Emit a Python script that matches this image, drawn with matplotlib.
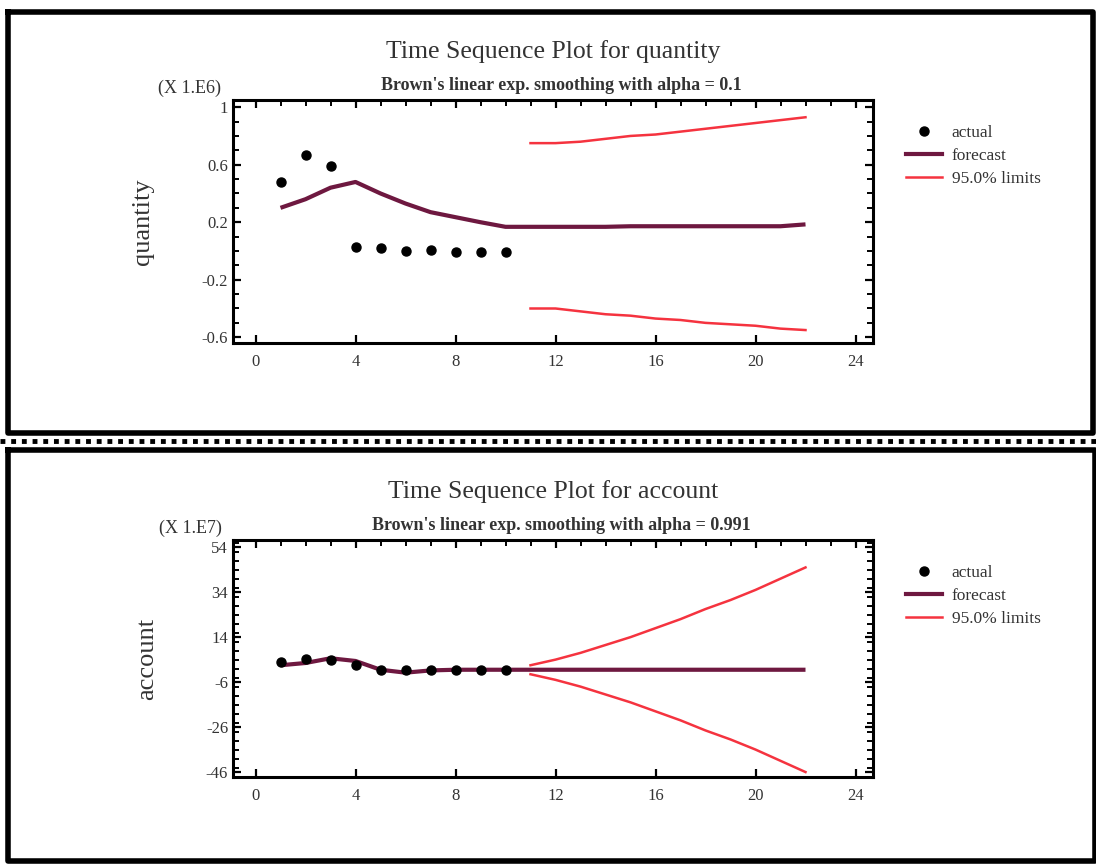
import matplotlib
matplotlib.use("Agg")
import matplotlib.pyplot as plt
from matplotlib.lines import Line2D
from matplotlib.ticker import MultipleLocator

plt.rcParams["font.family"] = ["Liberation Serif", "DejaVu Serif"]

# top panel: quantity (x 1.E6)
t_actual = [1, 2, 3, 4, 5, 6, 7, 8, 9, 10]
q_actual = [0.48, 0.67, 0.59, 0.03, 0.02, 0.0, 0.005, -0.007, -0.007, -0.007]
t_fc = [1, 2, 3, 4, 5, 6, 7, 8, 9, 10, 11, 12, 13, 14, 15, 16, 17, 18, 19, 20, 21, 22]
q_fc = [0.30, 0.36, 0.44, 0.48, 0.40, 0.33, 0.27, 0.235, 0.20, 0.168,
        0.168, 0.168, 0.168, 0.168, 0.172, 0.172, 0.172, 0.172, 0.172, 0.172, 0.172, 0.185]
t_lim = [11, 12, 13, 14, 15, 16, 17, 18, 19, 20, 21, 22]
q_upper = [0.75, 0.75, 0.76, 0.78, 0.80, 0.81, 0.83, 0.85, 0.87, 0.89, 0.91, 0.93]
q_lower = [-0.40, -0.40, -0.42, -0.44, -0.45, -0.47, -0.48, -0.50, -0.51, -0.52, -0.54, -0.55]

# bottom panel: account (x 1.E7)
a_actual = [2.9, 4.4, 3.9, 1.4, -0.8, -0.5, -0.5, -0.5, -0.5, -0.5]
a_fc = [1.5, 2.5, 4.6, 3.4, -0.5, -1.8, -0.8, -0.5, -0.5, -0.5,
        -0.5, -0.5, -0.5, -0.5, -0.5, -0.5, -0.5, -0.5, -0.5, -0.5, -0.5, -0.5]
a_upper = [1.5, 4.0, 7.0, 10.5, 14.0, 18.0, 22.0, 26.5, 30.5, 35.0, 40.0, 45.0]
a_lower = [-2.5, -5.0, -8.0, -11.5, -15.0, -19.0, -23.0, -27.5, -31.5, -36.0, -41.0, -46.0]

panels = [
    dict(name="quantity", alpha="0.1", scale="(X 1.E6)", actual=q_actual, fc=q_fc,
         upper=q_upper, lower=q_lower, ylim=(-0.64, 1.05), yticks=[-0.6, -0.2, 0.2, 0.6, 1],
         ylabels=["-0.6", "-0.2", "0.2", "0.6", "1"], minor=0.1, rect=[233, 100, 873, 343]),
    dict(name="account", alpha="0.991", scale="(X 1.E7)", actual=a_actual, fc=a_fc,
         upper=a_upper, lower=a_lower, ylim=(-48.2, 57.2), yticks=[-46, -26, -6, 14, 34, 54],
         ylabels=["-46", "-26", "-6", "14", "34", "54"], minor=4, rect=[233, 540, 873, 777]),
]

W, H = 1096, 864
FC_COLOR = "#6e1840"
LIM_COLOR = "#f5333f"

fig = plt.figure(figsize=(W / 100, H / 100), dpi=100)

for p in panels:
    x0, y0, x1, y1 = p["rect"]
    ax = fig.add_axes([x0 / W, 1 - y1 / H, (x1 - x0) / W, (y1 - y0) / H])
    ax.plot(t_fc, p["fc"], color=FC_COLOR, lw=3.0, solid_capstyle="butt", zorder=3)
    ax.plot(t_lim, p["upper"], color=LIM_COLOR, lw=1.8, zorder=2)
    ax.plot(t_lim, p["lower"], color=LIM_COLOR, lw=1.8, zorder=2)
    ax.plot(t_actual, p["actual"], "o", color="black", ms=6.5, zorder=4)

    ax.set_xlim(-0.9, 24.7)
    ax.set_ylim(*p["ylim"])
    ax.set_xticks([0, 4, 8, 12, 16, 20, 24])
    ax.set_yticks(p["yticks"])
    ax.set_yticklabels(p["ylabels"])
    ax.yaxis.set_minor_locator(MultipleLocator(p["minor"]))
    ax.xaxis.set_minor_locator(MultipleLocator(1))
    ax.tick_params(which="both", direction="in", colors="black", labelsize=12,
                   left=True, right=True, top=True, bottom=True, labelcolor="#333333")
    ax.tick_params(which="major", length=6, width=1.6)
    ax.tick_params(which="minor", length=4, width=1.4, bottom=False)
    ax.tick_params(axis="x", pad=8)
    for s in ax.spines.values():
        s.set_linewidth(2.2)
    ax.set_ylabel(p["name"], fontsize=19, color="#333333", labelpad=34)

    cx = (x0 + x1) / 2 / W
    fig.text(cx, 1 - (y0 - 48) / H, "Time Sequence Plot for " + p["name"],
             ha="center", va="center", fontsize=18.5, color="#333333")
    fig.text(cx + 8 / W, 1 - (y0 - 14) / H,
             "Brown's linear exp. smoothing with alpha = " + p["alpha"],
             ha="center", va="center", fontsize=13, fontweight="bold", color="#333333")
    fig.text(190 / W, 1 - (y0 - 12) / H, p["scale"], ha="center", va="center",
             fontsize=13, color="#333333")

    handles = [
        Line2D([], [], marker="o", ls="none", color="black", ms=6.5),
        Line2D([], [], color=FC_COLOR, lw=3.0),
        Line2D([], [], color=LIM_COLOR, lw=1.8),
    ]
    fig.legend(handles, ["actual", "forecast", "95.0% limits"], loc="upper left",
               bbox_to_anchor=(897 / W, 1 - (y0 + 16) / H), frameon=False,
               fontsize=12.5, handlelength=2.1, handletextpad=0.55, labelspacing=0.4,
               borderpad=0, labelcolor="#333333")

# panel frames
for (l, t, r, b) in [(8, 12, 1093, 433), (8, 450, 1095, 861)]:
    xs = [l / W, r / W, r / W, l / W, l / W]
    ys = [1 - t / H, 1 - t / H, 1 - b / H, 1 - b / H, 1 - t / H]
    fig.add_artist(Line2D(xs, ys, color="black", lw=4, transform=fig.transFigure))

# serrated separator
fig.add_artist(Line2D([0, 1], [1 - 441 / H, 1 - 441 / H], color="black", lw=3.5,
                      ls=(0, (1, 1.2)), transform=fig.transFigure))

fig.savefig("out.png", dpi=100)
